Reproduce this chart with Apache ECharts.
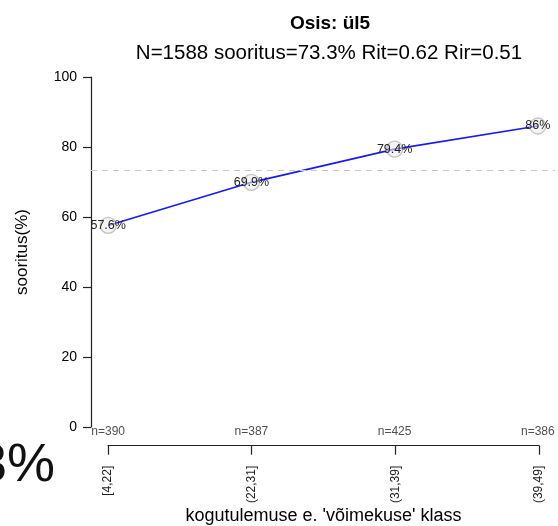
<!DOCTYPE html>
<html>
<head>
<meta charset="utf-8">
<script src="https://cdn.jsdelivr.net/npm/echarts@6/dist/echarts.min.js"></script>
<style>
  html, body { margin: 0; padding: 0; background: #fff; }
  #chart { width: 558px; height: 526px; }
</style>
</head>
<body>
<div id="chart"></div>
<script>
// Item performance by total-score class
const classes = ['[4,22]', '(22,31]', '(31,39]', '(39,49]'];
const scorePct = [57.6, 69.9, 79.4, 86];
const counts = [390, 387, 425, 386];
const overallPct = 73.3;
const yTicks = [0, 20, 40, 60, 80, 100];
const titleText = 'Osis: ül5';
const subtitleText = 'N=1588 sooritus=73.3% Rit=0.62 Rir=0.51';

const font = 'Liberation Sans, Arial, sans-serif';

const chart = echarts.init(document.getElementById('chart'), null, { renderer: 'canvas' });

const pointData = scorePct.map((v, i) => [i + 1, v]);
const countData = counts.map((n, i) => ({ value: [i + 1, 0], label: { formatter: 'n=' + n } }));

chart.setOption({
  animation: false,
  backgroundColor: '#ffffff',
  title: [
    {
      text: titleText, left: 325, top: 9, textAlign: 'center',
      textStyle: { fontFamily: font, fontSize: 19, fontWeight: 'bold', color: '#000' }
    },
    {
      text: subtitleText, left: 324, top: 38, textAlign: 'center',
      textStyle: { fontFamily: font, fontSize: 20.5, fontWeight: 'normal', color: '#000' }
    }
  ],
  graphic: [
    {
      type: 'text', left: -23, top: 439,
      style: { text: '3%', font: '54px ' + font, fill: '#111' }
    }
  ],
  grid: [
    { left: 91, width: 464, top: 77, height: 350 },
    { left: 108, width: 431, top: 445, height: 1 }
  ],
  xAxis: [
    {
      gridIndex: 0, type: 'value', min: 0.88, max: 4.12, show: false
    },
    {
      gridIndex: 1, type: 'category', data: classes, boundaryGap: false,
      position: 'bottom',
      name: "kogutulemuse e. 'võimekuse' klass",
      nameLocation: 'middle', nameGap: 60,
      nameTextStyle: { fontFamily: font, fontSize: 18, color: '#000' },
      axisLine: { lineStyle: { color: '#222', width: 1.2 } },
      axisTick: { show: true, length: 9, alignWithLabel: true, lineStyle: { color: '#222', width: 1.2 } },
      axisLabel: { rotate: 90, fontFamily: font, fontSize: 12, color: '#222', margin: 20 },
      splitLine: { show: false }
    }
  ],
  yAxis: [
    {
      gridIndex: 0, type: 'value', min: 0, max: 100, interval: 20,
      name: 'sooritus(%)', nameLocation: 'middle', nameGap: 60, nameRotate: 90,
      nameTextStyle: { fontFamily: font, fontSize: 17, color: '#000' },
      axisLine: { show: true, lineStyle: { color: '#222', width: 1.2 } },
      axisTick: { show: true, length: 8, lineStyle: { color: '#222', width: 1.2 } },
      axisLabel: {
        fontFamily: font, fontSize: 14, color: '#000', margin: 14,
        formatter: v => (yTicks.includes(v) ? String(v) : '')
      },
      splitLine: { show: false }
    },
    { gridIndex: 1, type: 'value', show: false }
  ],
  series: [
    {
      type: 'line', xAxisIndex: 0, yAxisIndex: 0, data: pointData,
      lineStyle: { color: '#1a1aee', width: 1.6 },
      symbol: 'circle', symbolSize: 16,
      itemStyle: { color: 'rgba(236,236,236,0.6)', borderColor: '#c4c4c4', borderWidth: 1.3 },
      label: {
        show: true, position: 'inside', fontFamily: font, fontSize: 12.5, color: '#222',
        formatter: p => p.value[1] + '%'
      },
      markLine: {
        silent: true, symbol: 'none', label: { show: false },
        lineStyle: { color: '#c8c8c8', type: [6, 5], width: 1.2 },
        data: [{ yAxis: overallPct }]
      },
      z: 3
    },
    {
      type: 'scatter', xAxisIndex: 0, yAxisIndex: 0, data: countData,
      symbolSize: 0,
      label: {
        show: true, position: 'inside', offset: [0, 5],
        fontFamily: font, fontSize: 12, color: '#222'
      },
      z: 4
    }
  ]
});
</script>
</body>
</html>
